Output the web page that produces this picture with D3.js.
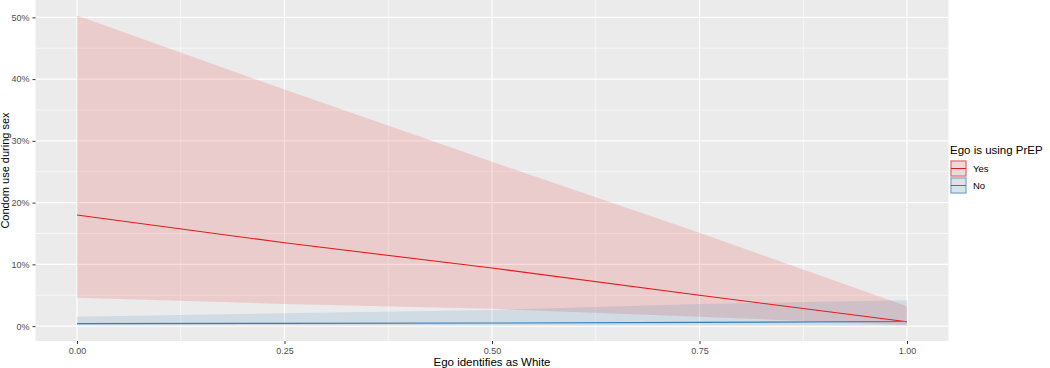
<!DOCTYPE html>
<html>
<head>
<meta charset="utf-8">
<script src="https://cdn.jsdelivr.net/npm/d3@7"></script>
<style>
  body { margin: 0; background: #fff; }
  svg text { font-family: "Liberation Sans", Arial, sans-serif; }
</style>
</head>
<body>
<div id="chart"></div>
<script>
(function () {
  'use strict';

  /* values (percent) */
  var xVals     = [0, 0.25, 0.5, 0.75, 1];
  var yesFit    = [18.0, 13.5, 9.4, 5.0, 0.7];
  var yesLower  = [4.6, 3.6, 2.8, 1.5, 0.2];
  var yesUpper  = [50.3, 38.3, 26.6, 15.1, 3.2];
  var noFit     = [0.4, 0.45, 0.5, 0.6, 0.75];
  var noLower   = [0.1, 0.1, 0.1, 0.1, 0.1];
  var noUpper   = [1.5, 2.1, 2.6, 3.6, 4.2];
  var xTicks    = [0, 0.25, 0.5, 0.75, 1];
  var yTicks    = [0, 10, 20, 30, 40, 50];
  var groups    = ['Yes', 'No'];
  var colours   = ['#e41a1c', '#377eb8'];

  var W = 1050, H = 368;
  var panel = { left: 35.5, right: 948.5, top: 0, bottom: 341 };

  var series = [
    { name: 'Yes', fit: yesFit, lo: yesLower, hi: yesUpper },
    { name: 'No',  fit: noFit,  lo: noLower,  hi: noUpper }
  ];

  // ggplot style 5% expansion
  var yMin = d3.min(series, function (s) { return d3.min(s.lo); });
  var yMax = d3.max(series, function (s) { return d3.max(s.hi); });
  var yPad = (yMax - yMin) * 0.05;

  var x = d3.scaleLinear().domain([-0.05, 1.05]).range([panel.left, panel.right]);
  var y = d3.scaleLinear().domain([yMin - yPad, yMax + yPad]).range([panel.bottom, panel.top]);
  var colour = d3.scaleOrdinal().domain(groups).range(colours);

  var svg = d3.select('#chart').append('svg')
    .attr('width', W).attr('height', H);

  svg.append('rect').attr('width', W).attr('height', H).attr('fill', '#fff');

  /* panel + grid */
  svg.append('rect')
    .attr('x', panel.left).attr('y', panel.top)
    .attr('width', panel.right - panel.left)
    .attr('height', panel.bottom - panel.top)
    .attr('fill', '#ebebeb');

  var minorX = d3.range(0, xTicks.length - 1).map(function (i) { return (xTicks[i] + xTicks[i + 1]) / 2; });
  var minorY = d3.range(0, yTicks.length - 1).map(function (i) { return (yTicks[i] + yTicks[i + 1]) / 2; });

  var grid = svg.append('g');
  grid.selectAll('.gxm').data(minorX).join('line')
    .attr('x1', x).attr('x2', x).attr('y1', panel.top).attr('y2', panel.bottom)
    .attr('stroke', '#fff').attr('stroke-width', 0.6);
  grid.selectAll('.gym').data(minorY).join('line')
    .attr('y1', y).attr('y2', y).attr('x1', panel.left).attr('x2', panel.right)
    .attr('stroke', '#fff').attr('stroke-width', 0.6);
  grid.selectAll('.gx').data(xTicks).join('line')
    .attr('x1', x).attr('x2', x).attr('y1', panel.top).attr('y2', panel.bottom)
    .attr('stroke', '#fff').attr('stroke-width', 1.2);
  grid.selectAll('.gy').data(yTicks).join('line')
    .attr('y1', y).attr('y2', y).attr('x1', panel.left).attr('x2', panel.right)
    .attr('stroke', '#fff').attr('stroke-width', 1.2);

  /* ribbons */
  var area = d3.area()
    .x(function (d) { return x(d.x); })
    .y0(function (d) { return y(d.lo); })
    .y1(function (d) { return y(d.hi); });
  var line = d3.line()
    .x(function (d) { return x(d.x); })
    .y(function (d) { return y(d.fit); });

  function rows(s) {
    return xVals.map(function (v, i) { return { x: v, fit: s.fit[i], lo: s.lo[i], hi: s.hi[i] }; });
  }

  series.forEach(function (s) {
    svg.append('path').datum(rows(s))
      .attr('d', area)
      .attr('fill', colour(s.name)).attr('fill-opacity', 0.15);
  });
  series.forEach(function (s) {
    svg.append('path').datum(rows(s))
      .attr('d', line)
      .attr('fill', 'none')
      .attr('stroke', colour(s.name)).attr('stroke-width', 1.1);
  });

  /* axes */
  var xAxis = svg.append('g')
    .attr('transform', 'translate(0,' + panel.bottom + ')')
    .call(d3.axisBottom(x).tickValues(xTicks).tickFormat(d3.format('.2f')).tickSize(3).tickPadding(4));
  var yAxis = svg.append('g')
    .attr('transform', 'translate(' + panel.left + ',0)')
    .call(d3.axisLeft(y).tickValues(yTicks).tickFormat(function (d) { return d + '%'; }).tickSize(3).tickPadding(3));
  [xAxis, yAxis].forEach(function (a) {
    a.select('.domain').remove();
    a.selectAll('.tick line').attr('stroke', '#333').attr('stroke-width', 1);
    a.selectAll('.tick text').attr('fill', '#4d4d4d').style('font-size', '9px');
  });

  svg.append('text')
    .attr('x', (panel.left + panel.right) / 2).attr('y', 366)
    .attr('text-anchor', 'middle').style('font-size', '11.5px').attr('fill', '#000')
    .text('Ego identifies as White');
  svg.append('text')
    .attr('transform', 'translate(9,' + (panel.bottom / 2) + ') rotate(-90)')
    .attr('text-anchor', 'middle').style('font-size', '11px').attr('fill', '#000')
    .text('Condom use during sex');

  /* legend */
  var lg = svg.append('g').attr('transform', 'translate(950,0)');
  lg.append('text').attr('x', 0).attr('y', 154)
    .style('font-size', '11.5px').attr('fill', '#000').text('Ego is using PrEP');
  groups.forEach(function (g, i) {
    var ky = 160 + i * 17;
    lg.append('rect').attr('x', 0).attr('y', ky).attr('width', 17).attr('height', 17).attr('fill', '#ebebeb');
    lg.append('rect').attr('x', 1).attr('y', ky + 1).attr('width', 15).attr('height', 15)
      .attr('fill', colour(g)).attr('fill-opacity', 0.08)
      .attr('stroke', colour(g)).attr('stroke-opacity', 0.7).attr('stroke-width', 1);
    lg.append('line').attr('x1', 1).attr('x2', 16).attr('y1', ky + 8.5).attr('y2', ky + 8.5)
      .attr('stroke', colour(g)).attr('stroke-width', 1);
    lg.append('text').attr('x', 23).attr('y', ky + 12)
      .style('font-size', '9.5px').attr('fill', '#000').text(g);
  });
})();
</script>
</body>
</html>
